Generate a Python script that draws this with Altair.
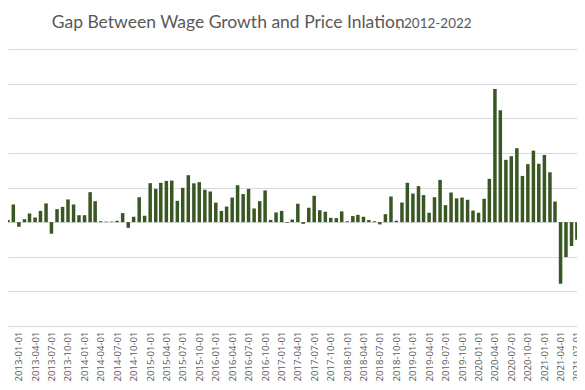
import altair as alt
import pandas as pd

title_main = "Gap Between Wage Growth and Price Inlation"
title_years = ", 2012-2022"

# monthly categories (first day of each month), visible part of the chart
months = pd.date_range("2012-11-01", "2021-07-01", freq="MS").strftime("%Y-%m-%d").tolist()

# wage growth minus price inflation, percentage points
gap = [
    0.12, 1.02,                                                        # 2012-11..12
    -0.27, 0.17, 0.50, 0.27, 0.65, 1.08, -0.67, 0.75, 0.88, 1.31, 1.02, 0.40,   # 2013
    0.40, 1.73, 1.21, 0.05, 0.03, 0.03, 0.08, 0.52, -0.33, 0.31, 1.44, 0.37,     # 2014
    2.25, 1.92, 2.27, 2.38, 2.40, 1.23, 1.98, 2.71, 2.24, 2.31, 1.87, 1.77,      # 2015
    1.13, 0.65, 0.90, 1.42, 2.13, 1.62, 1.92, 0.79, 1.21, 1.83, 0.13, 0.56,      # 2016
    0.65, -0.04, 0.15, 1.06, -0.10, 0.83, 1.52, 0.69, 0.60, 0.25, 0.23, 0.62,    # 2017
    0.05, 0.35, 0.42, 0.31, 0.12, 0.05, -0.13, 0.46, 1.48, 0.08, 1.13, 2.27,     # 2018
    1.65, 2.08, 1.56, 0.54, 1.44, 2.44, 0.98, 1.71, 1.37, 1.42, 1.29, 0.67,      # 2019
    0.54, 1.35, 2.50, 7.69, 6.46, 3.60, 3.81, 4.27, 2.67, 3.35, 4.13, 3.37,      # 2020
    3.88, 2.88, 1.19, -3.56, -2.02, -1.38, -1.02,                                # 2021
]

tick_labels = pd.date_range("2013-01-01", "2021-07-01", freq="QS").strftime("%Y-%m-%d").tolist()
grid_values = [-6, -4, -2, 0, 2, 4, 6, 8, 10]

df = pd.DataFrame({"month": months, "gap": gap})


def dt(s, hours=0):
    y, m, d = (int(p) for p in s.split("-"))
    return alt.DateTime(year=y, month=m, date=d, hours=hours, utc=True)


# visible window of the time axis (the reference is a crop of a wider chart)
x_domain = [dt("2012-11-29", 5), dt("2021-06-03", 14)]

GREY = "#595959"
LINE = "#d9d9d9"
FONT = "Open Sans"

bars = alt.Chart(df).mark_bar(size=3.5, color="#385723", clip=True).encode(
    x=alt.X(
        "month:T",
        scale=alt.Scale(type="utc", domain=x_domain, nice=False),
        axis=alt.Axis(
            values=[dt(s) for s in tick_labels],
            format="%Y-%m-%d",
            labelAngle=-90,
            labelOverlap=False,
            labelFlush=False,
            labelColor=GREY,
            labelFont=FONT,
            labelFontSize=9.6,
            labelPadding=5,
            ticks=False,
            grid=False,
            domainColor=LINE,
            domainWidth=1,
            title=None,
        ),
    ),
    y=alt.Y(
        "gap:Q",
        scale=alt.Scale(domain=[-6, 10], nice=False, zero=True),
        axis=alt.Axis(
            values=grid_values,
            labels=False,
            ticks=False,
            domain=False,
            grid=True,
            gridColor=LINE,
            gridWidth=1,
            title=None,
        ),
    ),
)

t1 = alt.Chart(pd.DataFrame({"t": [title_main]})).mark_text(
    align="left", baseline="alphabetic", font="Lato", fontSize=17.5, color=GREY
).encode(text="t:N", x=alt.value(43.7), y=alt.value(-20.7))

t2 = alt.Chart(pd.DataFrame({"t": [title_years]})).mark_text(
    align="right", baseline="alphabetic", font="Lato", fontSize=13.5, color=GREY
).encode(text="t:N", x=alt.value(463.7), y=alt.value(-20.7))

chart = alt.layer(bars, t1, t2).properties(
    width=569,
    height=277,
    autosize=alt.AutoSizeParams(type="none"),
    padding={"left": 0, "top": 41, "right": 0, "bottom": 56},
    background="white",
).configure_view(strokeWidth=0)

chart.save("out.html", embed_options={"renderer": "svg", "actions": False})
